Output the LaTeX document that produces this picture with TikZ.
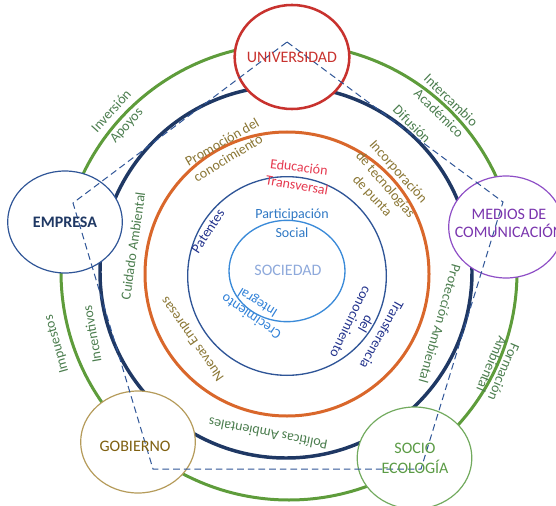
\documentclass[tikz,border=0pt]{standalone}
\usepackage{fontspec}
\setmainfont{Carlito}
\usetikzlibrary{shapes.geometric}
\definecolor{ringgreen}{HTML}{5E9C3B}
\definecolor{ringnavy}{HTML}{1F3864}
\definecolor{ringorange}{HTML}{D9672B}
\definecolor{ringblue}{HTML}{2F5597}
\definecolor{ringsky}{HTML}{3A8AD8}
\definecolor{univred}{HTML}{C8322E}
\definecolor{mediapurple}{HTML}{8E4EC6}
\definecolor{mediatext}{HTML}{7A35AE}
\definecolor{govtan}{HTML}{B59B5A}
\definecolor{govtext}{HTML}{7F6010}
\definecolor{ecogreen}{HTML}{72AA5E}
\definecolor{ecotext}{HTML}{5B9B45}
\definecolor{lblgreen}{HTML}{4B7D4E}
\definecolor{lblolive}{HTML}{8A7634}
\definecolor{lblred}{HTML}{E5394F}
\definecolor{lblblue}{HTML}{2F78C4}
\definecolor{lblsoc}{HTML}{8EA9DB}
\definecolor{lblnavy}{HTML}{23338C}
\definecolor{lblsky}{HTML}{3282D8}
\begin{document}
\begin{tikzpicture}[x=0.75pt,y=-0.75pt,
  actor/.style={ellipse,fill=white,inner sep=0pt,minimum width=86pt,minimum height=76.5pt},
  actortext/.style={inner sep=0pt,align=center,font=\fontsize{12}{13.5}\selectfont},
  lbl/.style={inner sep=0pt,font=\fontsize{10.5}{12}\selectfont},
  link/.style={draw=ringblue,line width=0.75pt,dash pattern=on 5pt off 3pt}]
\clip (0,0) rectangle (556,506);
\useasboundingbox (0,0) rectangle (556,506);

% concentric rings
\coordinate (cg) at (289,272);
\coordinate (cn) at (286,272);
\coordinate (co) at (287,274);
\coordinate (cb) at (287,276);
\coordinate (cs) at (287,271);
\draw[ringgreen,line width=2.25pt] (cg) circle[radius=171pt];
\draw[ringnavy,line width=2.6pt] (cn) circle[radius=139.5pt];
\draw[ringorange,line width=2.25pt] (co) circle[radius=106.5pt];
\draw[ringblue,line width=1pt] (cb) circle[radius=74.5pt];
\draw[ringsky,line width=1pt] (cs) ellipse[x radius=43.5pt,y radius=38pt];

% actors on the outer ring
\node[actor,draw=univred,line width=1.9pt,minimum height=78pt] (univ) at (292,57) {};
\node[actor,draw=ringblue,line width=0.9pt] (empresa) at (65,222) {};
\node[actor,draw=mediapurple,line width=0.9pt] (medios) at (506,227) {};
\node[actor,draw=govtan,line width=0.9pt] (gobierno) at (138,442) {};
\node[actor,draw=ecogreen,line width=0.9pt] (socio) at (414.5,458) {};

% dashed pentagon linking the actors
\coordinate (pu) at (287,42);
\coordinate (pm) at (503,202);
\coordinate (ps) at (421,469);
\coordinate (pg) at (153,469);
\coordinate (pe) at (73,203);
\draw[link] (pu) -- (pm) -- (ps) -- (pg) -- (pe) -- cycle;

% actor names
\node[actortext,text=univred] (univname) at (univ) {UNIVERSIDAD};
\node[actortext,text=ringnavy,font=\fontsize{12}{13.5}\selectfont\bfseries] (empname) at (empresa) {EMPRESA};
\node[actortext,text=mediatext,font=\fontsize{12}{13.5}\selectfont] (medname) at (509,223) {MEDIOS DE\\COMUNICACIÓN};
\node[actortext,text=govtext] (govname) at (135,446) {GOBIERNO};
\node[actortext,text=ecotext,font=\fontsize{12}{15}\selectfont] (econame) at (415,458) {SOCIO\\ECOLOGÍA};

% outer ring labels
\node[lbl,text=lblgreen,rotate=48] (inv) at (111,111) {Inversión};
\node[lbl,text=lblgreen,rotate=48] (apo) at (127,126) {Apoyos};
\node[lbl,text=lblgreen,rotate=-44] (int) at (451,100) {Intercambio};
\node[lbl,text=lblgreen,rotate=-44] (aca) at (439,113) {Académico};
\node[lbl,text=lblgreen,rotate=-45] (dif) at (412,124) {Difusión};
\node[lbl,text=lblgreen,rotate=106] (imp) at (57,344) {Impuestos};
\node[lbl,text=lblgreen,rotate=100] (inc) at (92,334) {Incentivos};
\node[lbl,text=lblgreen,rotate=-113] (for) at (504,372) {Formación};
\node[lbl,text=lblgreen,rotate=-113] (amb) at (492,364) {Ambiental};

% middle ring labels
\node[lbl,text=lblolive,rotate=30] (pro) at (222,142) {Promoción del};
\node[lbl,text=lblolive,rotate=31] (con) at (228,158) {conocimiento};
\node[lbl,text=lblolive,rotate=-48] (inco) at (398,172) {Incorporación};
\node[lbl,text=lblolive,rotate=-49] (tec) at (385,185) {de tecnologías};
\node[lbl,text=lblolive,rotate=-47] (pun) at (372,196) {de punta};
\node[lbl,text=lblgreen,rotate=82] (cui) at (133,246) {Cuidado Ambiental};
\node[lbl,text=lblolive,rotate=125] (nue) at (193,339) {Nuevas Empresas};
\node[lbl,text=lblgreen,rotate=169] (pol) at (268,434) {Políticas Ambientales};
\node[lbl,text=lblgreen,rotate=-106] (prot) at (440,324) {Protección Ambiental};

% inner labels
\node[lbl,text=lblred,rotate=-7] (edu) at (299,167) {Educación};
\node[lbl,text=lblred,rotate=-10] (tra) at (297,185) {Transversal};
\node[lbl,text=lblnavy,rotate=57] (pat) at (208,231) {Patentes};
\node[lbl,text=lblblue] (par) at (292,215) {Participación};
\node[lbl,text=lblblue] (soc) at (292,233) {Social};
\node[lbl,text=lblsoc,font=\fontsize{12}{13.5}\selectfont] (sociedad) at (288,270) {SOCIEDAD};
\node[lbl,text=lblsky,rotate=146] (cre) at (251,317) {Crecimiento};
\node[lbl,text=lblsky,rotate=148] (integ) at (258,302) {Integral};
\node[lbl,text=lblnavy,rotate=-119] (tran) at (382,335) {Transferencia};
\node[lbl,text=lblnavy,rotate=-120] (del) at (366,324) {del};
\node[lbl,text=lblnavy,rotate=-116] (conoc) at (351,322) {conocimiento};
\end{tikzpicture}
\end{document}
